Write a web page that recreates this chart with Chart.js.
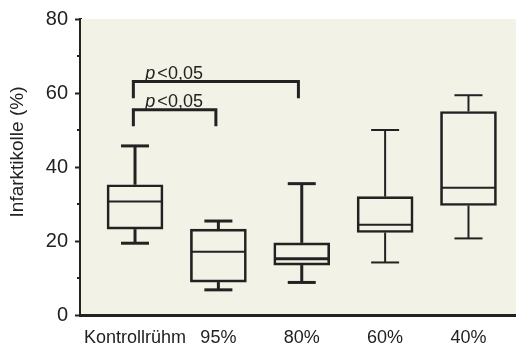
<!DOCTYPE html>
<html>
<head>
<meta charset="utf-8">
<script src="https://cdn.jsdelivr.net/npm/chart.js@4"></script>
<style>
  html, body { margin: 0; padding: 0; background: #fff; }
  #chart { display: block; }
</style>
</head>
<body>
<canvas id="chart" width="516" height="344"></canvas>
<script>
// Groups and box plot values
const groups = ['Kontrollrühm', '95%', '80%', '60%', '40%'];
const whiskerLow = [19.4, 6.8, 8.8, 14.2, 20.7];
const q1 = [23.2, 8.9, 13.5, 22.3, 29.6];
const median = [30.7, 17.1, 15.2, 24.4, 34.4];
const q3 = [35.2, 23.2, 19.5, 32.0, 55.0];
const whiskerHigh = [45.7, 25.4, 35.5, 50.0, 59.4];

// Significance brackets
const sigFrom = [-0.02, -0.02];
const sigTo = [0.97, 1.96];
const sigTop = [55.5, 63.1];
const sigLeg = [51.0, 58.6];
const sigLabel = ['<0,05', '<0,05'];

const minorTicks = [10, 30, 50, 70];
const yTitle = 'Infarktikolle (%)';

const FONT = '"Liberation Sans", Arial, sans-serif';
const INK = '#222';

function line(ctx, x1, y1, x2, y2) {
  ctx.beginPath();
  ctx.moveTo(x1, y1);
  ctx.lineTo(x2, y2);
  ctx.stroke();
}

// Background, whiskers, medians, brackets and labels
const boxPlugin = {
  id: 'boxParts',
  beforeDatasetsDraw(chart) {
    const { ctx, chartArea: a } = chart;
    ctx.save();
    ctx.fillStyle = '#f3f2e6';
    ctx.fillRect(a.left + 1, a.top, a.right - a.left, a.bottom - a.top - 1);
    ctx.restore();
  },
  afterDatasetsDraw(chart) {
    const { ctx, scales: { x, y } } = chart;
    ctx.save();
    ctx.strokeStyle = INK;
    groups.forEach((g, i) => {
      const cx = x.getPixelForValue(i);
      const cap = 14;
      ctx.lineWidth = i < 3 ? 3 : 2;
      line(ctx, cx, y.getPixelForValue(q3[i]), cx, y.getPixelForValue(whiskerHigh[i]));
      line(ctx, cx, y.getPixelForValue(q1[i]), cx, y.getPixelForValue(whiskerLow[i]));
      line(ctx, cx - cap, y.getPixelForValue(whiskerHigh[i]), cx + cap, y.getPixelForValue(whiskerHigh[i]));
      line(ctx, cx - cap, y.getPixelForValue(whiskerLow[i]), cx + cap, y.getPixelForValue(whiskerLow[i]));
      ctx.lineWidth = i === 2 ? 3 : 2;
      line(ctx, cx - 27, y.getPixelForValue(median[i]), cx + 27, y.getPixelForValue(median[i]));
    });

    // brackets
    ctx.lineWidth = 3;
    sigTop.forEach((v, i) => {
      const x1 = x.getPixelForValue(sigFrom[i]);
      const x2 = x.getPixelForValue(sigTo[i]);
      const yt = y.getPixelForValue(v);
      const yl = y.getPixelForValue(sigLeg[i]);
      ctx.beginPath();
      ctx.moveTo(x1, yl);
      ctx.lineTo(x1, yt);
      ctx.lineTo(x2, yt);
      ctx.lineTo(x2, yl);
      ctx.stroke();

      ctx.fillStyle = INK;
      ctx.textBaseline = 'alphabetic';
      ctx.textAlign = 'left';
      ctx.font = 'italic 18px ' + FONT;
      const tx = x1 + 12;
      const ty = yt - 3;
      ctx.fillText('p', tx, ty);
      const pw = ctx.measureText('p').width;
      ctx.font = '18px ' + FONT;
      ctx.fillText(sigLabel[i], tx + pw + 2, ty);
    });
    ctx.restore();
  },
  afterDraw(chart) {
    const { ctx, scales: { y } } = chart;
    ctx.save();
    ctx.fillStyle = INK;
    minorTicks.forEach(v => {
      ctx.fillRect(y.right - 3, Math.round(y.getPixelForValue(v)) - 1, 3, 2);
    });
    // y axis title
    ctx.translate(18, 152);
    ctx.rotate(-Math.PI / 2);
    ctx.textAlign = 'center';
    ctx.textBaseline = 'middle';
    ctx.font = '19px ' + FONT;
    ctx.fillText(yTitle, 0, 0);
    ctx.restore();
  }
};

new Chart(document.getElementById('chart'), {
  type: 'bar',
  data: {
    datasets: [{
      data: groups.map((g, i) => ({ x: i, y: [q1[i], q3[i]] })),
      backgroundColor: 'rgba(0,0,0,0)',
      borderColor: INK,
      borderWidth: 2,
      borderSkipped: false,
      barThickness: 56
    }]
  },
  options: {
    responsive: false,
    animation: false,
    devicePixelRatio: 1,
    layout: { padding: { top: 18, right: 0, left: 0, bottom: 0 } },
    plugins: {
      legend: { display: false },
      tooltip: { enabled: false }
    },
    scales: {
      x: {
        type: 'linear',
        offset: false,
        min: -0.66,
        max: 4.57,
        afterBuildTicks: s => { s.ticks = groups.map((g, i) => ({ value: i })); },
        afterFit: s => { s.height = 29; s.paddingLeft = 0; s.paddingRight = 0; },
        grid: { display: false, offset: false },
        border: { color: INK, width: 3 },
        ticks: {
          callback: v => groups[v],
          autoSkip: false,
          maxRotation: 0,
          padding: 4,
          color: INK,
          font: { family: FONT, size: 18 }
        }
      },
      y: {
        min: 0,
        max: 80,
        afterFit: s => { s.width = 80; },
        grid: {
          drawOnChartArea: false,
          tickLength: 5,
          tickWidth: 2,
          tickColor: c => (c.tick && c.tick.value % 20 !== 0) ? 'rgba(0,0,0,0)' : INK
        },
        border: { color: INK, width: 3 },
        ticks: {
          stepSize: 10,
          callback: v => v % 20 === 0 ? v : '',
          padding: 7,
          color: INK,
          font: { family: FONT, size: 20 }
        }
      }
    }
  },
  plugins: [boxPlugin]
});
</script>
</body>
</html>
